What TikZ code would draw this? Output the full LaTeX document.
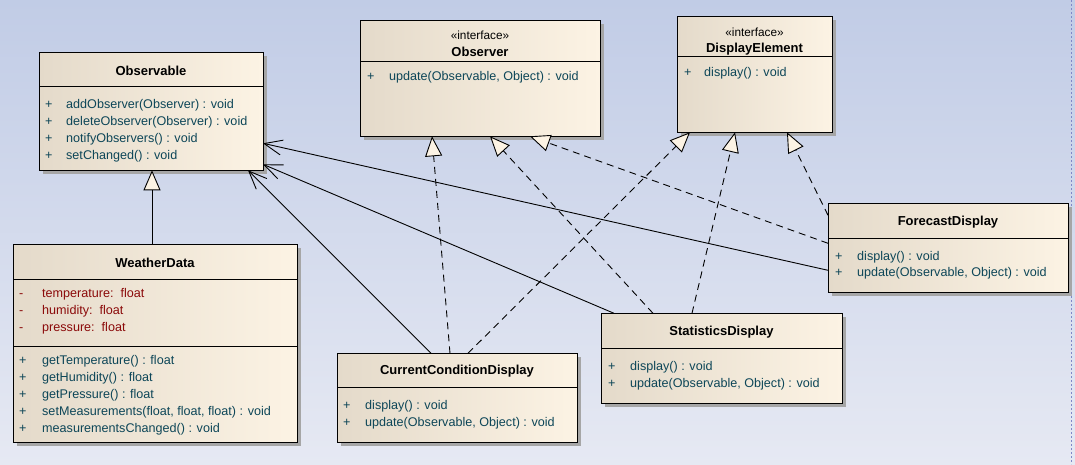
\documentclass[tikz,border=0pt]{standalone}
\usepackage{fontspec}
\setmainfont{Liberation Sans}
\usetikzlibrary{arrows.meta,shadows}
\definecolor{bgtop}{HTML}{C1CCE6}
\definecolor{bgbot}{HTML}{E6E9F3}
\definecolor{boxleft}{HTML}{E4DACA}
\definecolor{boxright}{HTML}{FCF3E4}
\definecolor{opcolor}{HTML}{0D4658}
\definecolor{attrcolor}{HTML}{8B0A0A}
\definecolor{pagecolor}{HTML}{8088C8}
\tikzset{
  classbox/.style={draw, line width=1pt, inner sep=0pt, outer sep=0pt,
    left color=boxleft, right color=boxright,
    drop shadow={shadow xshift=4pt, shadow yshift=-4pt, fill=black!35, opacity=1}},
  classname/.style={font=\fontsize{13}{15}\selectfont\bfseries, inner sep=0pt},
  stereo/.style={font=\fontsize{11.8}{13}\selectfont, inner sep=0pt},
  ops/.style={font=\fontsize{12.6}{17}\selectfont, text=opcolor, inner sep=0pt, anchor=north west},
  attrs/.style={ops, text=attrcolor},
  assoc/.style={line width=0.9pt, -{Straight Barb[length=18pt,width=15pt]}},
  realize/.style={line width=0.9pt, dash pattern=on 7pt off 5pt,
    -{Triangle[length=20pt,width=17pt,fill=boxright]}},
  inherit/.style={line width=0.9pt, -{Triangle[length=20pt,width=17pt,fill=boxright]}}
}
\begin{document}
\begin{tikzpicture}[x=1pt,y=-1pt]
  \fill[top color=bgtop, bottom color=bgbot] (0,0) rectangle (1075,464);
  \draw[pagecolor, line width=0.6pt, dash pattern=on 2pt off 2pt] (1071,0) -- (1071,464);

  % classes
  \node[classbox, minimum width=224pt, minimum height=118pt] (obs) at (151,111) {};
  \node[classbox, minimum width=284pt, minimum height=198pt] (weather) at (155,343) {};
  \node[classbox, minimum width=240pt, minimum height=116pt] (observer) at (480,78) {};
  \node[classbox, minimum width=155pt, minimum height=116pt] (display) at (754.5,74) {};
  \node[classbox, minimum width=240pt, minimum height=89pt] (fore) at (948,247.5) {};
  \node[classbox, minimum width=241pt, minimum height=90pt] (stat) at (721.5,358) {};
  \node[classbox, minimum width=240pt, minimum height=89pt] (ccd) at (457,397.5) {};

  \foreach \b/\y in {obs/86, weather/279, weather/346, observer/61, display/56,
                     fore/238, stat/348, ccd/387}
    \draw[line width=1pt] (\b.west |- 0,\y) -- (\b.east |- 0,\y);

  % names
  \node[classname] (obs-name) at (151,71) {Observable};
  \node[classname] (weather-name) at (155,263) {WeatherData};
  \node[stereo] (observer-stereo) at (480,35) {«interface»};
  \node[classname] (observer-name) at (480,52) {Observer};
  \node[stereo] (display-stereo) at (754.5,32) {«interface»};
  \node[classname] (display-name) at (754.5,49) {DisplayElement};
  \node[classname] (fore-name) at (948,222) {ForecastDisplay};
  \node[classname] (stat-name) at (721.5,332) {StatisticsDisplay};
  \node[classname] (ccd-name) at (457,371) {CurrentConditionDisplay};

  % members
  \node[ops] (obs-ops) at (45,96.5) {\begin{tabular}{@{}p{21pt}@{}l@{}}
    + & addObserver(Observer) : void\\
    + & deleteObserver(Observer) : void\\
    + & notifyObservers() : void\\
    + & setChanged() : void
  \end{tabular}};
  \node[attrs] (weather-attrs) at (19,285.5) {\begin{tabular}{@{}p{23pt}@{}l@{}}
    - & temperature:\ \ float\\
    - & humidity:\ \ float\\
    - & pressure:\ \ float
  \end{tabular}};
  \node[ops] (weather-ops) at (19,352.5) {\begin{tabular}{@{}p{23pt}@{}l@{}}
    + & getTemperature() : float\\
    + & getHumidity() : float\\
    + & getPressure() : float\\
    + & setMeasurements(float, float, float) : void\\
    + & measurementsChanged() : void
  \end{tabular}};
  \node[ops] (observer-ops) at (367,68.5) {\begin{tabular}{@{}p{22pt}@{}l@{}}
    + & update(Observable, Object) : void
  \end{tabular}};
  \node[ops] (display-ops) at (684,64.5) {\begin{tabular}{@{}p{20pt}@{}l@{}}
    + & display() : void
  \end{tabular}};
  \node[ops] (fore-ops) at (835,248.5) {\begin{tabular}{@{}p{22pt}@{}l@{}}
    + & display() : void\\[-1pt]
    + & update(Observable, Object) : void
  \end{tabular}};
  \node[ops] (stat-ops) at (608,358.5) {\begin{tabular}{@{}p{22pt}@{}l@{}}
    + & display() : void\\
    + & update(Observable, Object) : void
  \end{tabular}};
  \node[ops] (ccd-ops) at (343,397.5) {\begin{tabular}{@{}p{22pt}@{}l@{}}
    + & display() : void\\
    + & update(Observable, Object) : void
  \end{tabular}};

  % generalization
  \draw[inherit] (weather.north -| 152,0) -- (obs.south -| 152,0);

  % associations
  \draw[assoc] (fore.west |- 0,270) -- (obs.east |- 0,143);
  \draw[assoc] (stat.north -| 614,0) -- (obs.east |- 0,164);
  \draw[assoc] (ccd.north -| 431,0) -- ([xshift=-15pt]obs.south east);

  % realizations
  \draw[realize] (ccd.north -| 450,0) -- (observer.south -| 432,0);
  \draw[realize] (ccd.north -| 468,0) -- (display.south -| 690,0);
  \draw[realize] (stat.north -| 653,0) -- (observer.south -| 490,0);
  \draw[realize] (stat.north -| 692,0) -- (display.south -| 735,0);
  \draw[realize] (fore.west |- 0,243) -- (observer.south -| 530,0);
  \draw[realize] (fore.west |- 0,215) -- (display.south -| 787,0);
\end{tikzpicture}
\end{document}
